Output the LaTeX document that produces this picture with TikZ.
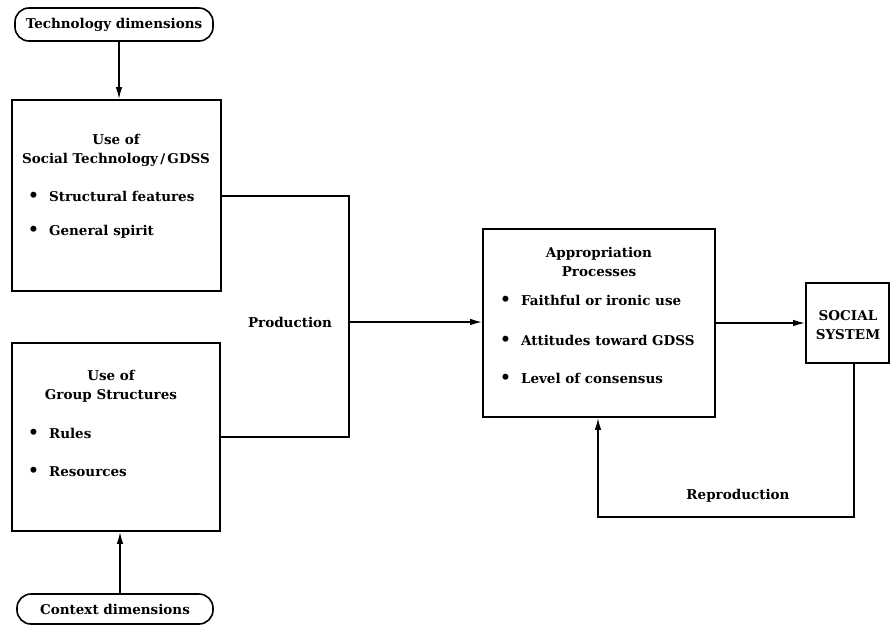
\documentclass[tikz,border=0pt]{standalone}
\usepackage{fontspec}
\setmainfont{DejaVu Serif}
\usetikzlibrary{shapes,arrows.meta}
\tikzstyle{box} = [draw, rectangle, line width=1.6pt, inner sep=0pt]
\tikzstyle{pill} = [draw, rectangle, rounded corners=14pt, line width=1.6pt, inner sep=0pt]
\tikzstyle{lbl} = [inner sep=0pt, font=\fontsize{13.5}{19}\selectfont\bfseries]
\tikzstyle{item} = [lbl, anchor=west]
\tikzstyle{conn} = [line width=1.6pt]
\tikzstyle{arr} = [conn, -{Latex[length=12pt,width=6.5pt]}]
\newcommand{\bul}{{\fontsize{17}{19}\selectfont\textbullet}\hspace{10pt}}

\begin{document}
\begin{tikzpicture}[x=1pt,y=-1pt]
	\useasboundingbox (0,0) rectangle (891,630);
	% left column
	\node[pill,minimum width=198pt,minimum height=33pt] (techDim) at (114,24.5) {};
	\node[lbl] (techDimText) at (114,24.5) {Technology dimensions};
	\node[box,minimum width=209pt,minimum height=191pt] (techBox) at (116.5,195.5) {};
	\node[lbl,align=center] (techTitle) at (116,150) {Use of\\Social Technology\,/\,GDSS};
	\node[item] (techItem1) at (28,196) {\bul Structural features};
	\node[item] (techItem2) at (28,232) {\bul General spirit};
	\node[box,minimum width=208pt,minimum height=188pt] (groupBox) at (116,437) {};
	\node[lbl,align=center] (groupTitle) at (111,386) {Use of\\Group Structures};
	\node[item] (groupItem1) at (28,433) {\bul Rules};
	\node[item] (groupItem2) at (28,472) {\bul Resources};
	\node[pill,minimum width=196pt,minimum height=30pt] (contextDim) at (115,609) {};
	\node[lbl] (contextDimText) at (115,609) {Context dimensions};
	% middle and right
	\node[box,minimum width=232pt,minimum height=188pt] (appBox) at (599,323) {};
	\node[lbl,align=center] (appTitle) at (599,262) {Appropriation\\Processes};
	\node[item] (appItem1) at (500,300) {\bul Faithful or ironic use};
	\node[item] (appItem2) at (500,340) {\bul Attitudes toward GDSS};
	\node[item] (appItem3) at (500,378) {\bul Level of consensus};
	\node[box,minimum width=83pt,minimum height=80pt] (socBox) at (847.5,323) {};
	\node[lbl,align=center] (socText) at (848,325) {SOCIAL\\SYSTEM};
	\node[lbl] (prodText) at (290,322) {Production};
	\node[lbl] (reprodText) at (738,496) {Reproduction};
	\coordinate (prodTop) at (349,196);
	\coordinate (prodMid) at (349,322);
	\coordinate (prodBot) at (349,437);
	\coordinate (repRight) at (854,517);
	\coordinate (repLeft) at (598,517);
	% connectors
	\draw[arr] (techDim.south -| 119,0) -- (techBox.north -| 119,0);
	\draw[arr] (contextDim.north -| 120,0) -- (groupBox.south -| 120,0);
	\draw[conn] (techBox.east |- prodTop) -- (prodTop) -- (prodBot) -- (groupBox.east |- prodBot);
	\draw[arr] (prodMid) -- (appBox.west |- prodMid);
	\draw[arr] (appBox) -- (socBox);
	\draw[arr] (socBox.south -| repRight) -- (repRight) -- (repLeft) -- (appBox.south -| repLeft);
\end{tikzpicture}
\end{document}
